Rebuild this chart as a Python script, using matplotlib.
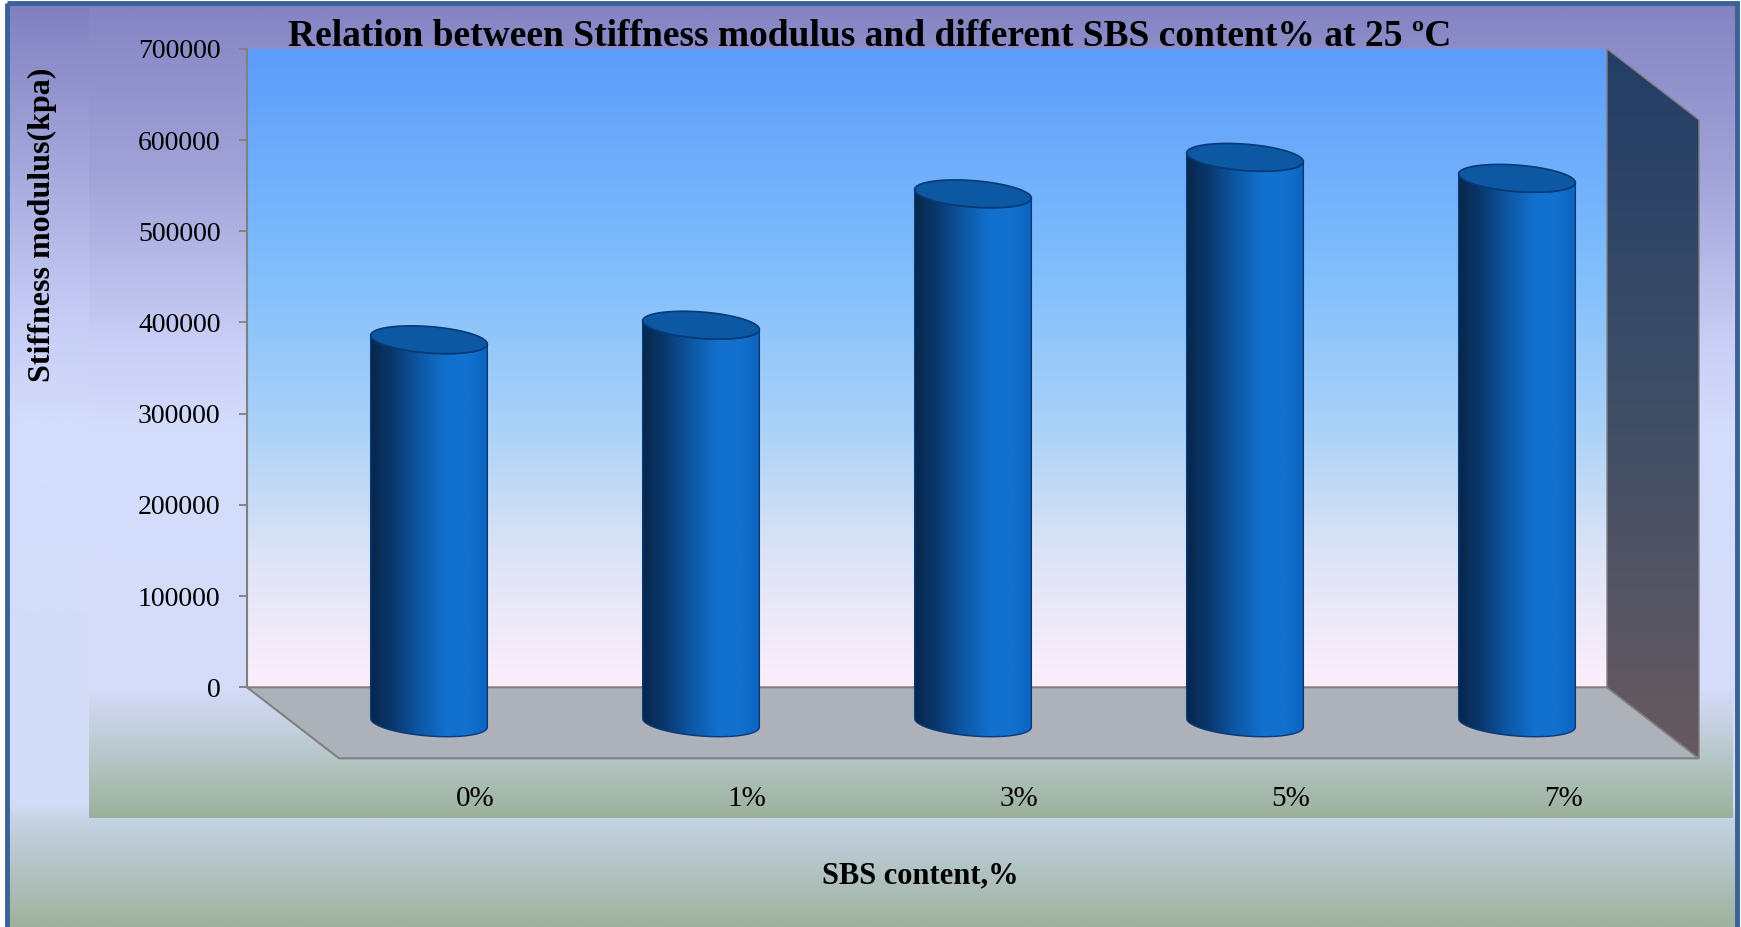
import numpy as np
import matplotlib.pyplot as plt
from matplotlib.patches import Polygon, Rectangle

# values
categories = ['0%', '1%', '3%', '5%', '7%']
stiffness = [420000, 436000, 580000, 620000, 597000]
yticks = [0, 100000, 200000, 300000, 400000, 500000, 600000, 700000]
title = 'Relation between Stiffness modulus and different SBS content% at 25 ºC'
xlabel = 'SBS content,%'
ylabel = 'Stiffness modulus(kpa)'

W, H = 1741, 927
ymax = 700000
ncat = len(categories)

fig = plt.figure(figsize=(W / 100, H / 100), dpi=100)
fig.patch.set_facecolor('white')


def grad(stops, n=256):
    # stops: list of (pos, (r, g, b)) with pos 0..1
    pos = np.array([s[0] for s in stops])
    cols = np.array([s[1] for s in stops]) / 255.0
    t = np.linspace(0, 1, n)
    return np.stack([np.interp(t, pos, cols[:, k]) for k in range(3)], axis=-1)


def vimg(ax, extent, stops, zorder):
    arr = grad(stops)[:, None, :]
    return ax.imshow(arr, extent=extent, aspect='auto', origin='upper',
                     interpolation='bilinear', zorder=zorder)


def himg(ax, extent, stops, zorder):
    arr = grad(stops)[None, :, :]
    return ax.imshow(arr, extent=extent, aspect='auto', origin='upper',
                     interpolation='bilinear', zorder=zorder)


# ---- background (figure pixel coords) ----
bg = fig.add_axes([0, 0, 1, 1], zorder=0)
bg.set_xlim(0, W)
bg.set_ylim(H, 0)
bg.axis('off')
vimg(bg, (7, W - 4, H, 3), [(0, (128, 128, 192)), (0.33, (196, 202, 244)),
                            (0.45, (212, 220, 252)), (0.87, (210, 220, 246)),
                            (0.885, (197, 211, 229)), (1, (158, 178, 158))], 0)
vimg(bg, (89, 1733, 818, 8), [(0, (133, 133, 196)), (0.2, (160, 162, 215)),
                              (0.42, (202, 208, 247)), (0.52, (212, 220, 252)),
                              (0.84, (212, 220, 250)), (0.88, (200, 210, 228)),
                              (1, (155, 178, 155))], 1)
bg.add_patch(Rectangle((7, 3), W - 11, H + 10, fill=False, ec=(58 / 255, 98 / 255, 150 / 255),
                       lw=3.5, zorder=3))

# ---- main axes = back wall ----
ax = fig.add_axes([247 / W, 1 - 687.3 / H, 1360 / W, 638.4 / H], zorder=1)
ax.set_autoscale_on(False)
ax.set_xlim(0, ncat)
ax.set_ylim(0, ymax)
ax.patch.set_visible(False)

# depth offset of the 3d box, in data units
DX = 92 / 1360 * ncat
DY = -71 / 638.4 * ymax

vimg(ax, (0, ncat, 0, ymax), [(0, (92, 156, 250)), (0.35, (128, 190, 252)),
                               (0.6, (172, 210, 248)), (0.8, (222, 228, 246)),
                               (1, (253, 238, 252))], 0)

gray = (0.5, 0.5, 0.5)
floor = Polygon([(0, 0), (ncat, 0), (ncat + DX, DY), (DX, DY)], closed=True,
                fc=(173 / 255, 177 / 255, 185 / 255), ec=gray, lw=1.5, clip_on=False, zorder=1)
ax.add_patch(floor)

side = Polygon([(ncat, 0), (ncat, ymax), (ncat + DX, ymax + DY), (ncat + DX, DY)], closed=True,
               fill=False, ec=gray, lw=1, clip_on=False, zorder=2)
ax.add_patch(side)
im = vimg(ax, (ncat, ncat + DX, DY, ymax), [(0, (36, 62, 104)), (0.5, (62, 78, 102)),
                                             (1, (104, 90, 96))], 1)
im.set_clip_path(side)
im.set_clip_box(fig.bbox)

# ---- cylinders ----
a = 0.204   # x radius (categories)
b = 0.196   # depth radius (fraction of depth)
t_r = np.arctan2(b * DX, a)
t_l = t_r + np.pi
half_w = np.hypot(a, b * DX)

body_stops = [(0, (8, 38, 75)), (0.18, (10, 55, 108)), (0.42, (14, 88, 165)),
              (0.65, (18, 113, 206)), (0.85, (18, 112, 206)), (1, (12, 100, 190))]

for i, v in enumerate(stiffness):
    cx = i + 0.5 + DX / 2
    y0 = DY / 2
    y1 = v + DY / 2
    tf = np.linspace(t_r, t_l, 100)
    bx = cx + a * np.cos(tf) + b * DX * np.sin(tf)
    by = b * DY * np.sin(tf)
    pts = np.vstack([np.column_stack([bx, y0 + by]),
                     np.column_stack([bx[::-1], y1 + by[::-1]])])
    body = Polygon(pts, closed=True, fill=False, ec=(10 / 255, 60 / 255, 120 / 255), lw=1,
                   clip_on=False, zorder=4)
    ax.add_patch(body)
    bim = himg(ax, (cx - half_w, cx + half_w, y0 + b * DY - 5000, y1 + 5000), body_stops, 3)
    bim.set_clip_path(body)
    bim.set_clip_box(fig.bbox)

    tt = np.linspace(0, 2 * np.pi, 200)
    capx = cx + a * np.cos(tt) + b * DX * np.sin(tt)
    capy = y1 + b * DY * np.sin(tt)
    cap = Polygon(np.column_stack([capx, capy]), closed=True,
                  fc=(12 / 255, 88 / 255, 162 / 255), ec=(5 / 255, 58 / 255, 118 / 255),
                  lw=1.2, clip_on=False, zorder=5)
    ax.add_patch(cap)

    ax.annotate(categories[i], (i + 0.5 + DX, DY), xytext=(0, -41), textcoords='offset pixels',
                ha='center', va='center', fontsize=21, family='Liberation Serif',
                annotation_clip=False)

# ---- axis styling ----
for s in ['top', 'right', 'bottom']:
    ax.spines[s].set_visible(False)
ax.spines['left'].set_color(gray)
ax.spines['left'].set_linewidth(1.5)
ax.set_xticks([])
ax.set_yticks(yticks)
ax.set_yticklabels([str(t) for t in yticks], family='Liberation Serif')
ax.tick_params(axis='y', direction='out', length=6, width=1.3, color=gray,
               labelsize=20, pad=13)

fig.text(870 / W, 1 - 36 / H, title, ha='center', va='center', fontsize=27,
         fontweight='bold', family='Liberation Serif', zorder=10)
fig.text(920 / W, 1 - 876 / H, xlabel, ha='center', va='center', fontsize=22,
         fontweight='bold', family='Liberation Serif')
fig.text(42 / W, 1 - 225 / H, ylabel, ha='center', va='center', rotation=90,
         fontsize=23, fontweight='bold', family='Liberation Serif')

fig.savefig('out.png', dpi=100)
